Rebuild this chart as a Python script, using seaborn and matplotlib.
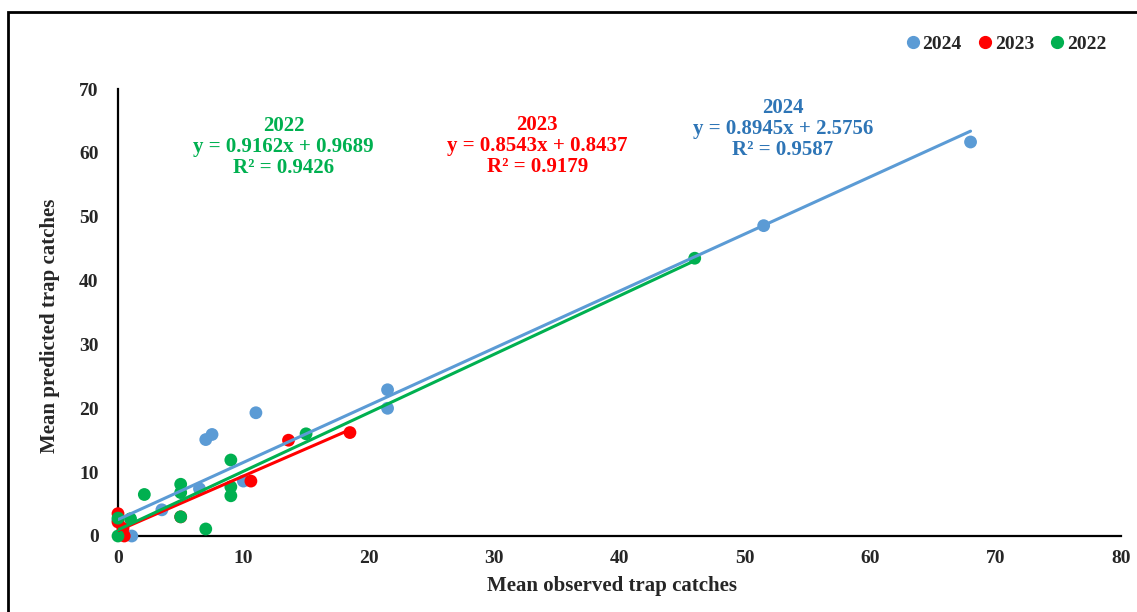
import numpy as np
import pandas as pd
import matplotlib
matplotlib.use("Agg")
import matplotlib.pyplot as plt
import seaborn as sns

# observed / predicted mean trap catches per year
obs_2024 = [0.0, 1.1, 3.5, 6.5, 7.0, 7.5, 10.0, 11.0, 21.5, 21.5, 51.5, 68.0]
pred_2024 = [2.5, 0.0, 4.1, 7.4, 15.1, 15.9, 8.6, 19.3, 22.9, 20.0, 48.6, 61.7]

obs_2023 = [0.0, 0.0, 0.4, 0.5, 5.0, 10.6, 13.6, 18.5]
pred_2023 = [3.5, 2.2, 1.2, 0.0, 3.0, 8.6, 15.0, 16.2]

obs_2022 = [0.0, 0.0, 1.0, 2.1, 5.0, 5.0, 5.0, 7.0, 9.0, 9.0, 9.0, 15.0, 46.0]
pred_2022 = [0.0, 2.8, 2.7, 6.5, 8.1, 6.8, 3.0, 1.1, 11.9, 7.7, 6.3, 16.0, 43.5]

years = ["2024", "2023", "2022"]
slopes = [0.8945, 0.8543, 0.9162]
intercepts = [2.5756, 0.8437, 0.9689]
r2 = [0.9587, 0.9179, 0.9426]

colors = {"2024": "#5B9BD5", "2023": "#FF0000", "2022": "#00B050"}
text_colors = {"2024": "#2E75B6", "2023": "#FF0000", "2022": "#00B050"}

df = pd.concat([
    pd.DataFrame({"obs": obs_2024, "pred": pred_2024, "Year": "2024"}),
    pd.DataFrame({"obs": obs_2023, "pred": pred_2023, "Year": "2023"}),
    pd.DataFrame({"obs": obs_2022, "pred": pred_2022, "Year": "2022"}),
], ignore_index=True)

sns.set_style("white")
plt.rcParams["font.family"] = ["Liberation Serif", "DejaVu Serif"]
plt.rcParams["font.weight"] = "bold"
plt.rcParams["axes.labelweight"] = "bold"

fig = plt.figure(figsize=(11.37, 6.12), dpi=100)
ax = fig.add_axes([118 / 1137, 1 - 536 / 612, (1121 - 118) / 1137, (536 - 89) / 612])

sns.scatterplot(data=df, x="obs", y="pred", hue="Year", hue_order=years,
                palette=colors, s=85, edgecolor="none", alpha=1, ax=ax, zorder=3,
                clip_on=False)

# linear trendlines over each series' x range
for yr, m, b in zip(years, slopes, intercepts):
    sub = df[df["Year"] == yr]
    xs = np.array([sub["obs"].min(), sub["obs"].max()])
    line = pd.DataFrame({"x": xs, "y": m * xs + b})
    sns.lineplot(data=line, x="x", y="y", color=colors[yr], lw=2.2, ax=ax, zorder=4)

ax.set_xlim(0, 80)
ax.set_ylim(0, 70)
ax.set_xticks(range(0, 81, 10))
ax.set_yticks(range(0, 71, 10))
ax.tick_params(axis="both", length=0, labelsize=14)
ax.tick_params(axis="y", pad=14)
ax.tick_params(axis="x", pad=10)
for lab in ax.get_xticklabels() + ax.get_yticklabels():
    lab.set_fontweight("bold")

sns.despine(ax=ax)
for sp in ["left", "bottom"]:
    ax.spines[sp].set_color("black")
    ax.spines[sp].set_linewidth(1.6)

ax.set_xlabel("Mean observed trap catches", fontsize=15, fontweight="bold")
ax.set_ylabel("Mean predicted trap catches", fontsize=15, fontweight="bold")
ax.xaxis.set_label_coords(0.493, -0.09)
ax.yaxis.set_label_coords(-0.058, 0.47)

# trendline equations
label_pos = {"2024": (0.663, 0.91), "2023": (0.418, 0.873), "2022": (0.165, 0.87)}
for yr, m, b, r in zip(years, slopes, intercepts, r2):
    txt = f"{yr}\ny = {m:.4f}x + {b:.4f}\nR² = {r:.4f}"
    ax.text(*label_pos[yr], txt, transform=ax.transAxes, ha="center", va="center",
            color=text_colors[yr], fontsize=15, fontweight="bold", linespacing=1.05)

ax.legend_.remove()
handles = [plt.Line2D([], [], marker="o", ls="", color=colors[y], markersize=8.5) for y in years]
fig.legend(handles, years, loc="center right", bbox_to_anchor=(1124 / 1137, 1 - 44 / 612),
           ncol=3, frameon=False, handletextpad=0.0, columnspacing=0.7,
           handlelength=1.0, prop={"weight": "bold", "size": 14})

# outer frame of the figure
fig.patches.append(plt.Rectangle((8 / 1137, -0.05), 1.1, 1 - 12 / 612 + 0.05,
                                 transform=fig.transFigure, fill=False,
                                 edgecolor="black", lw=2.0))

fig.savefig("out.png", dpi=100)
